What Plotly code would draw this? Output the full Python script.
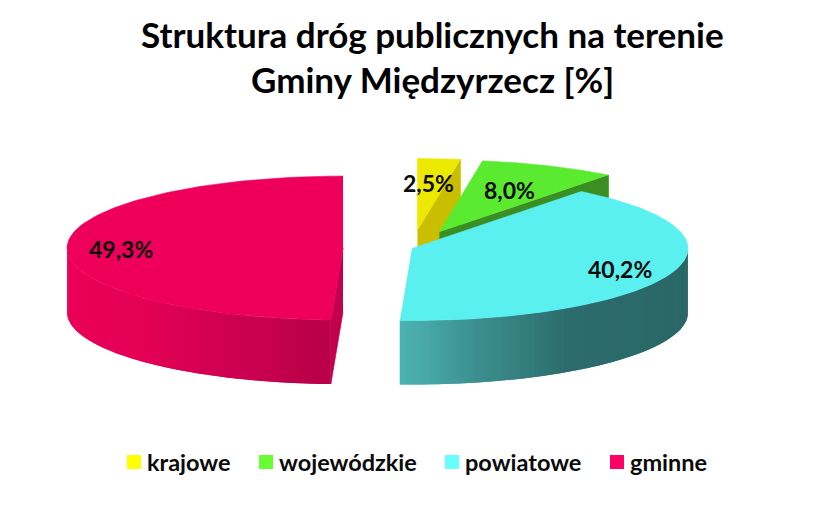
import numpy as np
import plotly.graph_objects as go

# chart data
categories = ["krajowe", "wojewódzkie", "powiatowe", "gminne"]
values = [2.5, 8.0, 40.2, 49.3]
explode = [0.25, 0.25, 0.0, 0.25]

title_lines = ["Struktura dróg publicznych na terenie", "Gminy Międzyrzecz [%]"]

# look
TOP_COLORS = ["#ebe900", "#5aea30", "#5af0f0", "#ee005a"]
CUT_COLORS = ["#c9bf00", "#3a8f22", "#2a6666", "#c2004c"]
LEGEND_COLORS = ["#ffff00", "#66ff33", "#66ffff", "#ff0066"]
SIDE_STOPS = {
    2: [(90, "#2a6666"), (145, "#2c6c6c"), (165, "#3c8e8e"), (182.5, "#4db5b5")],
    3: [(182.5, "#b80048"), (200, "#cc0050"), (225, "#e40056"), (270, "#ee005a")],
}
FONT = "Lato"

# pie geometry in page pixels
CX, CY = 412, 248.5
RX, RY = 276, 72
DEPTH = 64
LABEL_POS = [(428, 183), (509, 190), (620, 269), (121, 249)]
LEGEND_X = [134, 266, 452, 617]
LEGEND_Y = 462
LEGEND_TEXT_DX = 11


def rim(center, angles):
    a = np.radians(angles)
    return center[0] + RX * np.sin(a), center[1] - RY * np.cos(a)


def hex_rgb(c):
    return [int(c[i : i + 2], 16) for i in (1, 3, 5)]


def side_color(stops, angle):
    xs = [s[0] for s in stops]
    rgb = [np.interp(angle, xs, [hex_rgb(s[1])[i] for s in stops]) for i in range(3)]
    return "rgb({:.0f},{:.0f},{:.0f})".format(*rgb)


def add_poly(fig, xs, ys, color, width=0.6):
    fig.add_trace(
        go.Scatter(
            x=list(xs),
            y=list(ys),
            mode="lines",
            fill="toself",
            fillcolor=color,
            line=dict(color=color, width=width),
            hoverinfo="skip",
            showlegend=False,
        )
    )


fig = go.Figure()

start = 0.0
for i, value in enumerate(values):
    end = start + value * 3.6
    mid = np.radians((start + end) / 2)
    center = (
        CX + explode[i] * RX * np.sin(mid),
        CY - explode[i] * RY * np.cos(mid),
    )

    # straight cut faces that look towards the viewer
    for angle, visible in ((start, 180 < start < 360), (end, 0 < end < 180)):
        if visible:
            ex, ey = rim(center, np.array([angle]))
            add_poly(
                fig,
                [center[0], ex[0], ex[0], center[0]],
                [center[1], ey[0], ey[0] + DEPTH, center[1] + DEPTH],
                CUT_COLORS[i],
            )

    # outer wall, strips overlap the next one so no seams show
    lo, hi = max(start, 90), min(end, 270)
    if lo < hi:
        edges = np.linspace(lo, hi, 91)
        step = edges[1] - edges[0]
        # draw from the far end so each strip covers the overlap of the last
        for a0 in edges[:-1][::-1]:
            arc = np.linspace(a0, min(a0 + 2 * step, hi), 4)
            ax, ay = rim(center, arc)
            add_poly(
                fig,
                np.r_[ax, ax[::-1]],
                np.r_[ay, ay[::-1] + DEPTH],
                side_color(SIDE_STOPS[i], a0 + step / 2),
                width=0,
            )

    # top surface
    ax, ay = rim(center, np.linspace(start, end, 120))
    add_poly(fig, np.r_[center[0], ax], np.r_[center[1], ay], TOP_COLORS[i])

    fig.add_annotation(
        x=LABEL_POS[i][0],
        y=LABEL_POS[i][1],
        text="<b>{:.1f}%</b>".format(value).replace(".", ","),
        showarrow=False,
        font=dict(family=FONT, size=23, color="#0b0b0b"),
    )
    start = end

for name, color, x in zip(categories, LEGEND_COLORS, LEGEND_X):
    fig.add_trace(
        go.Scatter(
            x=[x],
            y=[LEGEND_Y],
            mode="markers",
            marker=dict(symbol="square", size=14, color=color),
            name=name,
            showlegend=False,
            hoverinfo="skip",
        )
    )
    fig.add_annotation(
        x=x + LEGEND_TEXT_DX,
        y=LEGEND_Y,
        text="<b>" + name + "</b>",
        showarrow=False,
        xanchor="left",
        font=dict(family=FONT, size=23.5, color="#0b0b0b"),
    )

for line, y in zip(title_lines, (34, 79)):
    fig.add_annotation(
        x=432,
        y=y,
        text="<b>" + line + "</b>",
        showarrow=False,
        font=dict(family=FONT, size=35, color="#000000"),
    )

fig.update_layout(
    width=834,
    height=517,
    margin=dict(l=0, r=0, t=0, b=0),
    paper_bgcolor="white",
    plot_bgcolor="white",
    showlegend=False,
)
fig.update_xaxes(range=[0, 834], visible=False, fixedrange=True)
fig.update_yaxes(range=[517, 0], visible=False, fixedrange=True)

fig.write_html("out.html", config=dict(displayModeBar=False), post_script="document.body.style.margin='0';")
